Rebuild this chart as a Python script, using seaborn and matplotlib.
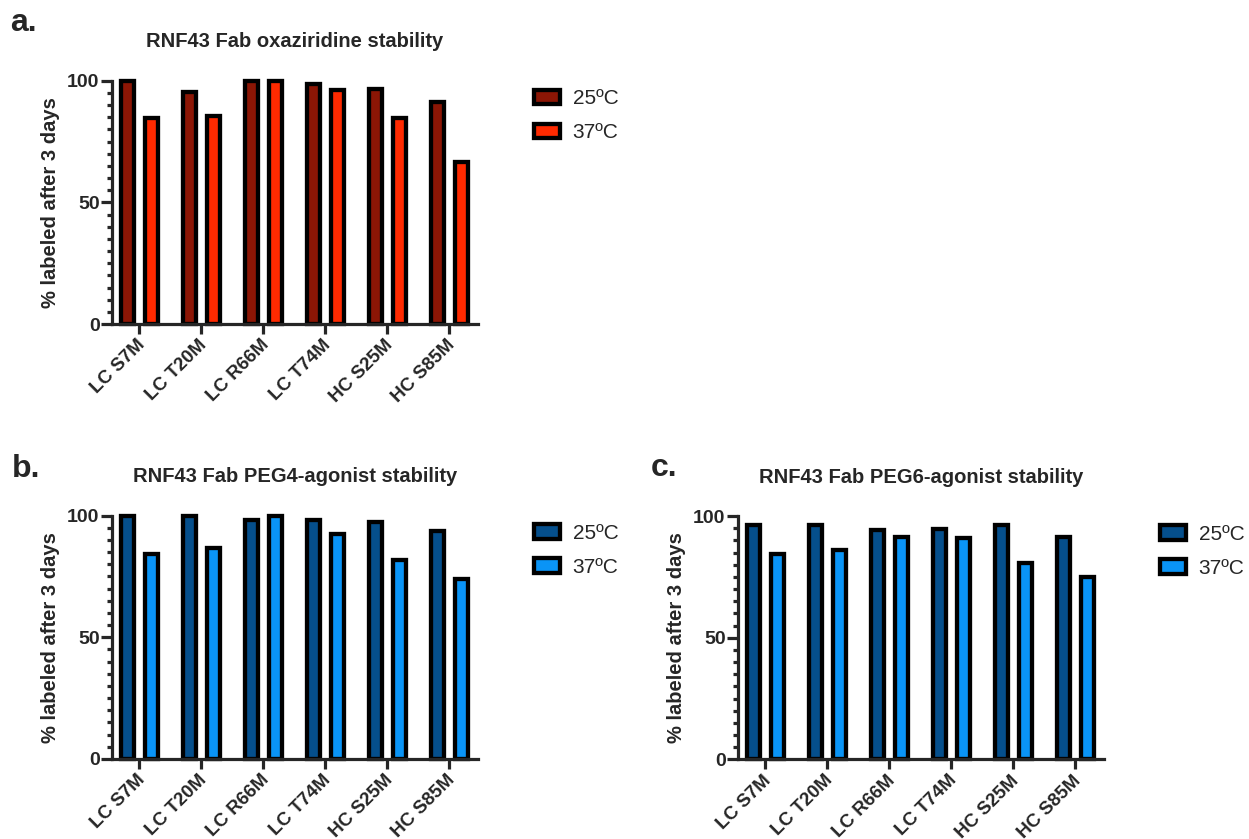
import pandas as pd
import numpy as np
import matplotlib.pyplot as plt
import seaborn as sns
from matplotlib.patches import Patch
from matplotlib.ticker import MultipleLocator
from matplotlib.transforms import ScaledTranslation

mutants = ["LC S7M", "LC T20M", "LC R66M", "LC T74M", "HC S25M", "HC S85M"]
temps = ["25ºC", "37ºC"]

# % labeled after 3 days
oxaziridine_25 = [99.7, 95.5, 99.7, 98.6, 96.4, 91.4]
oxaziridine_37 = [84.8, 85.6, 99.7, 96.3, 84.8, 66.6]
peg4_25 = [99.7, 99.7, 98.4, 98.4, 97.5, 93.7]
peg4_37 = [84.3, 86.9, 99.7, 92.5, 81.7, 74.0]
peg6_25 = [96.3, 96.3, 94.4, 94.8, 96.3, 91.6]
peg6_37 = [84.4, 86.2, 91.4, 91.2, 80.7, 75.1]

reds = ["#8c1605", "#ff2a00"]
blues = ["#054f8c", "#0a94f6"]

sns.set_style("ticks")
plt.rcParams["font.family"] = ["Liberation Sans", "DejaVu Sans"]

fig = plt.figure(figsize=(12.49, 8.39), dpi=100)


def draw_panel(ax, v25, v37, colors, title):
    df = pd.DataFrame({
        "mutant": mutants * 2,
        "temp": [temps[0]] * len(mutants) + [temps[1]] * len(mutants),
        "value": v25 + v37,
    })
    sns.barplot(data=df, x="mutant", y="value", hue="temp", hue_order=temps,
                palette=colors, width=0.78, gap=0.48, edgecolor="black",
                linewidth=3.1, saturation=1, legend=False, ax=ax)
    for p in ax.patches:
        p.set_clip_on(False)

    ax.set_xlim(-0.44, 5.46)
    ax.set_ylim(0, 100)
    ax.set_yticks([0, 50, 100])
    ax.yaxis.set_minor_locator(MultipleLocator(5))
    sns.despine(ax=ax)
    for s in ["left", "bottom"]:
        ax.spines[s].set_linewidth(2.3)

    ax.tick_params(axis="y", which="major", length=8, width=2.3, pad=1, labelsize=14)
    ax.tick_params(axis="y", which="minor", length=3.8, width=2.3)
    ax.tick_params(axis="x", length=7, width=2.3, pad=2, labelsize=13.5)
    ax.set_xticks(range(len(mutants)))
    ax.set_xticklabels(mutants, rotation=45, ha="right", rotation_mode="anchor",
                       fontweight="bold")
    shift = ScaledTranslation(-3 / 100, 0, fig.dpi_scale_trans)
    for t in ax.get_xticklabels():
        t.set_transform(t.get_transform() + shift)
    for t in ax.get_yticklabels():
        t.set_fontweight("bold")

    ax.set_xlabel("")
    ax.set_ylabel("% labeled after 3 days", fontsize=14.5, fontweight="bold",
                  labelpad=5)
    ax.set_title(title, fontsize=14.5, fontweight="bold", pad=24)

    handles = [Patch(facecolor=c, edgecolor="black", linewidth=3.1) for c in colors]
    ax.legend(handles, temps, loc="upper left", bbox_to_anchor=(1.152, 0.965),
              frameon=False, fontsize=15, borderpad=0, borderaxespad=0,
              handlelength=1.25, handleheight=0.72, handletextpad=0.62,
              labelspacing=0.72)


ax_a = fig.add_axes([0.0897, 0.6138, 0.293, 0.2900])
ax_b = fig.add_axes([0.0897, 0.0954, 0.293, 0.2900])
ax_c = fig.add_axes([0.5909, 0.0948, 0.293, 0.2900])

draw_panel(ax_a, oxaziridine_25, oxaziridine_37, reds, "RNF43 Fab oxaziridine stability")
draw_panel(ax_b, peg4_25, peg4_37, blues, "RNF43 Fab PEG4-agonist stability")
draw_panel(ax_c, peg6_25, peg6_37, blues, "RNF43 Fab PEG6-agonist stability")

fig.text(0.0080, 0.963, "a.", fontsize=23, fontweight="bold")
fig.text(0.0096, 0.4318, "b.", fontsize=23, fontweight="bold")
fig.text(0.5210, 0.433, "c.", fontsize=23, fontweight="bold")

fig.savefig("out.png", dpi=100)
